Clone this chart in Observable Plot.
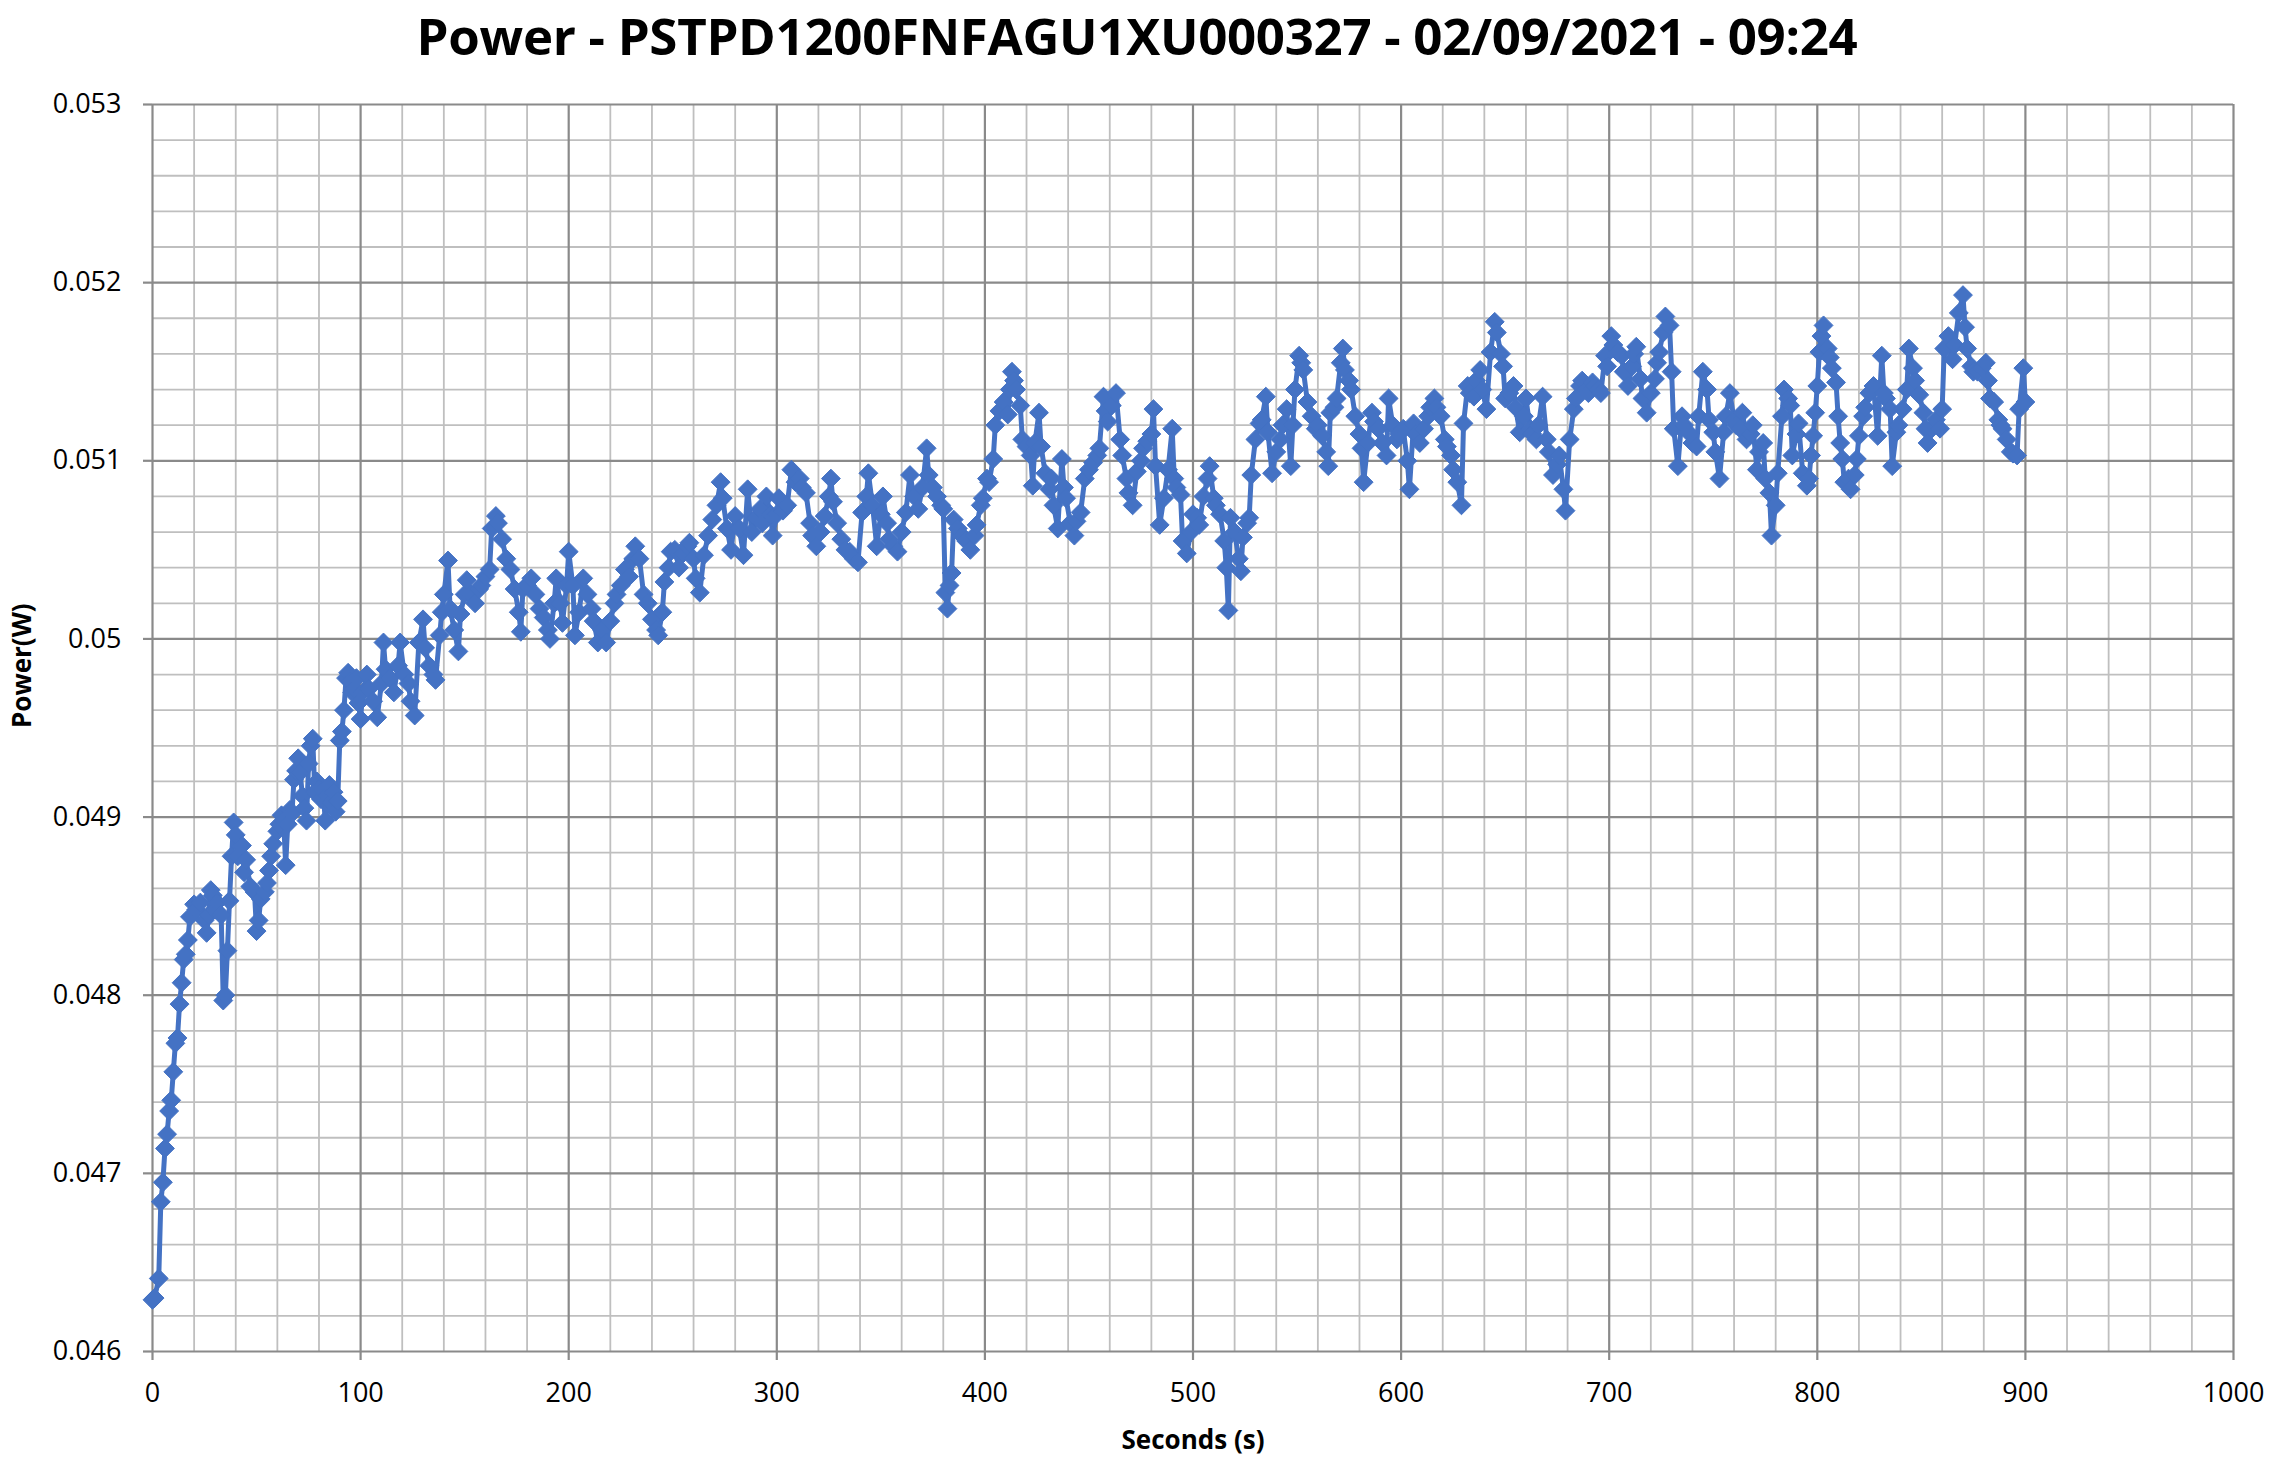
<!DOCTYPE html>
<html>
<head>
<meta charset="utf-8">
<script src="https://cdn.jsdelivr.net/npm/d3@7"></script>
<script src="https://cdn.jsdelivr.net/npm/@observablehq/plot@0.6"></script>
<style>
  html, body { margin: 0; padding: 0; background: #ffffff; }
  #title {
    height: 70px; box-sizing: border-box; padding: 0;
    font-family: "Open Sans", sans-serif; font-weight: 700; font-size: 51px;
    line-height: 70px; text-align: center; color: #000; width: 2274px;
    letter-spacing: -0.3px; white-space: nowrap;
  }
  #chart svg { display: block; }
</style>
</head>
<body>
<div id="title"></div>
<div id="chart"></div>
<script>
const chartTitle = "Power - PSTPD1200FNFAGU1XU000327 - 02/09/2021 - 09:24";
const xLabel = "Seconds (s)";
const yLabel = "Power(W)";

const xTicks = [0, 100, 200, 300, 400, 500, 600, 700, 800, 900, 1000];
const xMinor = [20, 40, 60, 80, 120, 140, 160, 180, 220, 240, 260, 280, 320, 340, 360, 380, 420, 440, 460, 480, 520, 540, 560, 580, 620, 640, 660, 680, 720, 740, 760, 780, 820, 840, 860, 880, 920, 940, 960, 980];
const yTicks = [0.046, 0.047, 0.048, 0.049, 0.050, 0.051, 0.052, 0.053];
const yMinor = [0.0462, 0.0464, 0.0466, 0.0468, 0.0472, 0.0474, 0.0476, 0.0478, 0.0482, 0.0484, 0.0486, 0.0488, 0.0492, 0.0494, 0.0496, 0.0498, 0.0502, 0.0504, 0.0506, 0.0508, 0.0512, 0.0514, 0.0516, 0.0518, 0.0522, 0.0524, 0.0526, 0.0528];

const seconds = [
  0,1,3,4,5,6,7,8,9,10,11,12,13,14,15,16,17,18,20,21,23,25,26,27,28,29,30,31,33,34,35,36,37,38,39,40,41,43,44,45,47,49,50,51,52,54,55,56,57,58,60,61,62,63,64,65,66,67,68,69,70,71,72,73,74,75,76,77,78,79,80,81,82,83,84,85,86,87,88,89,90,91,92,93,94,95,96,97,98,99,100,
  101,103,104,106,108,110,111,112,114,116,118,119,121,123,124,126,128,130,131,133,135,136,138,139,140,142,143,145,147,148,150,151,153,155,157,158,160,162,163,165,166,168,170,172,174,176,177,178,180,182,184,186,188,190,191,193,194,196,197,199,200,202,203,205,207,209,211,212,214,216,218,220,222,223,225,227,229,231,232,234,236,238,240,242,243,245,246,248,249,
  251,253,255,257,258,260,261,263,265,267,269,271,273,274,276,278,280,282,284,286,288,290,292,293,295,297,298,300,301,303,305,307,309,311,312,314,316,317,319,321,323,325,326,327,329,331,333,335,337,339,341,343,344,346,348,350,351,353,354,356,358,360,362,364,366,368,370,372,373,375,377,379,380,381,382,383,384,385,387,389,391,393,395,396,398,399,
  401,402,404,405,407,409,411,412,413,414,415,417,418,420,422,423,424,426,427,429,431,432,433,435,437,438,439,441,443,444,446,448,450,452,454,455,457,458,459,461,463,465,466,468,469,471,473,475,476,478,480,481,482,484,486,488,490,491,492,494,495,497,499,500,502,503,505,507,508,510,511,513,515,516,517,518,520,522,523,524,526,527,528,530,
  532,533,535,536,538,540,542,543,545,547,548,549,551,552,553,555,557,559,560,562,564,565,566,568,569,571,572,573,575,576,578,580,581,582,584,586,587,589,591,593,594,596,598,599,601,603,604,606,607,609,611,613,614,616,617,619,621,622,624,625,627,629,630,632,633,635,636,638,639,641,643,645,646,648,649,650,652,654,655,657,659,660,662,663,665,666,668,670,671,673,675,676,678,679,681,683,684,686,687,689,690,692,693,695,696,698,699,
  701,702,704,706,707,709,711,712,713,715,716,718,720,722,723,724,726,727,729,730,731,733,735,736,738,740,742,743,745,747,748,750,751,753,755,756,758,760,761,763,764,766,768,769,771,772,774,775,777,778,780,781,783,784,786,787,788,790,791,793,795,796,797,798,799,800,
  801,802,803,805,806,807,809,810,811,812,813,815,816,818,819,820,822,823,825,827,829,831,832,833,835,836,838,839,841,843,844,846,847,849,851,852,853,855,857,859,860,861,863,865,866,868,870,871,872,874,875,877,879,881,882,883,885,887,888,889,891,893,894,896,897,899,900
];

const powerW = [
  0.04629,0.04630,0.04641,0.04684,0.04695,0.04714,0.04722,0.04735,0.04741,0.04757,0.04773,0.04776,0.04795,0.04807,0.04820,0.04823,0.04831,0.04844,0.04851,0.04848,0.04852,0.04842,0.04835,0.04845,0.04859,0.04856,0.04848,0.04852,0.04845,0.04797,0.04800,0.04825,0.04853,0.04878,0.04897,0.04890,0.04878,0.04884,0.04869,0.04876,0.04861,0.04858,0.04836,0.04842,0.04854,0.04858,0.04863,0.04870,0.04878,0.04885,0.04892,0.04896,0.04901,0.04898,0.04873,0.04896,0.04904,0.04902,0.04921,0.04926,0.04933,0.04925,0.04912,0.04905,0.04898,0.04930,0.04940,0.04944,0.04914,0.04920,0.04916,0.04910,0.04915,0.04898,0.04912,0.04918,0.04908,0.04914,0.04903,0.04909,0.04943,0.04948,0.04960,0.04978,0.04981,0.04976,0.04970,0.04972,0.04978,0.04964,0.04955,
  0.04970,0.04980,0.04972,0.04965,0.04956,0.04975,0.04998,0.04983,0.04978,0.04970,0.04985,0.04998,0.04980,0.04975,0.04965,0.04957,0.04998,0.05011,0.04995,0.04985,0.04980,0.04977,0.05002,0.05015,0.05025,0.05044,0.05017,0.05005,0.04993,0.05014,0.05025,0.05033,0.05025,0.05020,0.05028,0.05030,0.05035,0.05039,0.05062,0.05069,0.05065,0.05056,0.05045,0.05039,0.05028,0.05015,0.05004,0.05028,0.05030,0.05034,0.05025,0.05017,0.05012,0.05005,0.05000,0.05020,0.05034,0.05020,0.05009,0.05030,0.05049,0.05030,0.05002,0.05015,0.05034,0.05025,0.05017,0.05010,0.04998,0.05005,0.04998,0.05010,0.05020,0.05025,0.05030,0.05039,0.05035,0.05045,0.05052,0.05045,0.05025,0.05020,0.05011,0.05005,0.05002,0.05015,0.05032,0.05040,0.05049,
  0.05050,0.05040,0.05048,0.05052,0.05054,0.05045,0.05034,0.05026,0.05047,0.05058,0.05067,0.05075,0.05088,0.05079,0.05062,0.05050,0.05069,0.05062,0.05047,0.05084,0.05060,0.05068,0.05073,0.05065,0.05080,0.05070,0.05058,0.05070,0.05079,0.05072,0.05075,0.05095,0.05088,0.05090,0.05085,0.05082,0.05065,0.05058,0.05052,0.05060,0.05069,0.05080,0.05090,0.05077,0.05065,0.05056,0.05050,0.05049,0.05045,0.05043,0.05071,0.05080,0.05093,0.05075,0.05052,0.05070,0.05080,0.05065,0.05056,0.05052,0.05049,0.05060,0.05071,0.05092,0.05080,0.05073,0.05085,0.05107,0.05092,0.05085,0.05080,0.05075,0.05073,0.05026,0.05017,0.05030,0.05037,0.05067,0.05062,0.05058,0.05055,0.05050,0.05058,0.05064,0.05075,0.05079,
  0.05090,0.05088,0.05101,0.05120,0.05128,0.05133,0.05126,0.05140,0.05150,0.05145,0.05140,0.05131,0.05112,0.05108,0.05103,0.05086,0.05110,0.05127,0.05108,0.05093,0.05084,0.05090,0.05075,0.05062,0.05101,0.05085,0.05079,0.05065,0.05058,0.05066,0.05071,0.05090,0.05095,0.05099,0.05103,0.05107,0.05136,0.05128,0.05122,0.05131,0.05138,0.05112,0.05103,0.05090,0.05082,0.05075,0.05094,0.05100,0.05107,0.05111,0.05115,0.05129,0.05097,0.05064,0.05079,0.05095,0.05118,0.05090,0.05085,0.05081,0.05055,0.05048,0.05060,0.05070,0.05068,0.05064,0.05080,0.05090,0.05097,0.05079,0.05075,0.05070,0.05055,0.05040,0.05016,0.05068,0.05060,0.05045,0.05038,0.05057,0.05065,0.05068,0.05092,0.05112,
  0.05121,0.05123,0.05136,0.05116,0.05093,0.05105,0.05112,0.05120,0.05129,0.05097,0.05120,0.05140,0.05159,0.05155,0.05151,0.05133,0.05125,0.05118,0.05120,0.05114,0.05105,0.05097,0.05127,0.05130,0.05135,0.05155,0.05163,0.05151,0.05145,0.05140,0.05125,0.05115,0.05107,0.05088,0.05110,0.05127,0.05122,0.05118,0.05110,0.05103,0.05135,0.05120,0.05112,0.05115,0.05118,0.05100,0.05084,0.05121,0.05115,0.05110,0.05118,0.05125,0.05130,0.05135,0.05130,0.05125,0.05112,0.05108,0.05103,0.05095,0.05088,0.05075,0.05121,0.05142,0.05138,0.05136,0.05145,0.05151,0.05140,0.05129,0.05161,0.05178,0.05172,0.05160,0.05153,0.05135,0.05138,0.05142,0.05130,0.05116,0.05125,0.05135,0.05118,0.05115,0.05112,0.05120,0.05136,0.05112,0.05105,0.05092,0.05098,0.05103,0.05084,0.05072,0.05112,0.05129,0.05135,0.05142,0.05145,0.05140,0.05138,0.05144,0.05142,0.05140,0.05138,0.05159,0.05153,
  0.05170,0.05165,0.05161,0.05159,0.05150,0.05142,0.05153,0.05160,0.05164,0.05146,0.05135,0.05127,0.05138,0.05146,0.05155,0.05161,0.05172,0.05181,0.05176,0.05150,0.05118,0.05097,0.05125,0.05120,0.05116,0.05110,0.05108,0.05125,0.05150,0.05140,0.05123,0.05116,0.05105,0.05090,0.05116,0.05125,0.05138,0.05123,0.05120,0.05118,0.05127,0.05112,0.05115,0.05120,0.05095,0.05105,0.05110,0.05090,0.05082,0.05058,0.05075,0.05093,0.05125,0.05140,0.05135,0.05131,0.05103,0.05115,0.05121,0.05093,0.05086,0.05090,0.05103,0.05114,0.05127,0.05142,
  0.05161,0.05170,0.05176,0.05163,0.05158,0.05152,0.05144,0.05125,0.05110,0.05101,0.05088,0.05090,0.05084,0.05092,0.05101,0.05114,0.05125,0.05130,0.05138,0.05142,0.05114,0.05159,0.05138,0.05135,0.05129,0.05097,0.05116,0.05120,0.05129,0.05140,0.05163,0.05152,0.05145,0.05137,0.05127,0.05118,0.05110,0.05118,0.05123,0.05118,0.05129,0.05163,0.05170,0.05157,0.05165,0.05183,0.05193,0.05175,0.05163,0.05153,0.05150,0.05150,0.05152,0.05155,0.05145,0.05135,0.05133,0.05123,0.05120,0.05118,0.05112,0.05105,0.05104,0.05103,0.05129,0.05152,0.05133
];

document.getElementById("title").textContent = chartTitle;

const data = seconds.map((s, i) => ({s, p: powerW[i]}));
const fmtY = d => String(+d.toFixed(3));
const blue = "#4472C4";
const minorColor = "#bfbfbf";
const majorColor = "#8a8a8a";

const chart = Plot.plot({
  width: 2274,
  height: 1395,
  marginTop: 34,
  marginBottom: 114,
  marginLeft: 152,
  marginRight: 41,
  style: {fontFamily: "'Open Sans', sans-serif", fontSize: "27px", color: "#000", background: "#fff", overflow: "visible"},
  x: {domain: [0, 1000], axis: null},
  y: {domain: [0.046, 0.053], axis: null},
  marks: [
    Plot.ruleX(xMinor, {stroke: minorColor, strokeWidth: 1.8}),
    Plot.ruleY(yMinor, {stroke: minorColor, strokeWidth: 1.8}),
    Plot.ruleX(xTicks, {stroke: majorColor, strokeWidth: 2.2}),
    Plot.ruleY(yTicks, {stroke: majorColor, strokeWidth: 2.2}),
    Plot.axisX(xTicks, {tickSize: 9, tickPadding: 22, stroke: majorColor, strokeWidth: 2.2, fill: "#000", fontSize: 27, tickFormat: d => String(d), label: null}),
    Plot.axisY(yTicks, {tickSize: 9, tickPadding: 22, stroke: majorColor, strokeWidth: 2.2, fill: "#000", fontSize: 27, tickFormat: fmtY, label: null}),
    Plot.line(data, {x: "s", y: "p", stroke: blue, strokeWidth: 5, strokeLinejoin: "round"}),
    Plot.dot(data, {x: "s", y: "p", symbol: "diamond2", r: 8.5, fill: blue, stroke: blue, strokeWidth: 1}),
    Plot.text([xLabel], {frameAnchor: "bottom", dy: 89, fontWeight: "bold", fontSize: 26, fill: "#000", lineAnchor: "middle"}),
    Plot.text([yLabel], {frameAnchor: "left", dx: -130, rotate: -90, fontWeight: "bold", fontSize: 26, fill: "#000", lineAnchor: "middle"})
  ]
});
document.getElementById("chart").appendChild(chart);
</script>
</body>
</html>
